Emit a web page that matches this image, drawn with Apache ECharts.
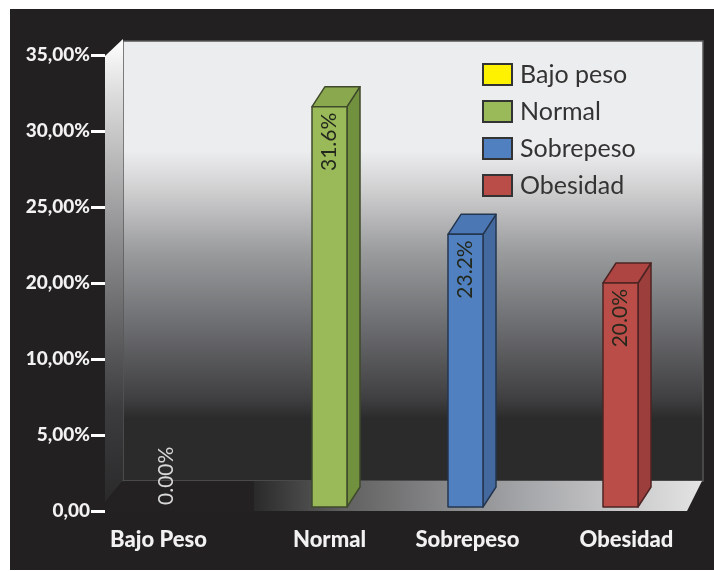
<!DOCTYPE html>
<html>
<head>
<meta charset="utf-8">
<style>
  html, body { margin: 0; padding: 0; background: #fff; }
  #chart { width: 714px; height: 571px; }
</style>
</head>
<body>
<div id="chart"></div>
<script src="https://cdn.jsdelivr.net/npm/echarts@6/dist/echarts.min.js"></script>
<script>
  // datos
  const categories = ['Bajo Peso', 'Normal', 'Sobrepeso', 'Obesidad'];
  const legendNames = ['Bajo peso', 'Normal', 'Sobrepeso', 'Obesidad'];
  const values = [0, 31.6, 23.2, 20.0];
  // the printed axis skips 15%, so its ticks are evenly spaced but not linear
  const tickValues = [0, 5, 10, 20, 25, 30, 35];
  const tickLabels = ['0,00', '5,00%', '10,00%', '20,00%', '25,00%', '30,00%', '35,00%'];

  const frontColors = ['#fff200', '#9aba5a', '#5180c0', '#bb4d49'];
  const sideColors = ['#d8cc00', '#72913f', '#44699f', '#9c3e3b'];
  const topColors = ['#eee000', '#8aa84e', '#4c77b5', '#ae4542'];
  const edgeColors = ['#333333', '#3f4a2b', '#24364f', '#4d2423'];
  // the bars and labels are not evenly spaced in the original
  const barNudge = [2, 12, -5, -3];
  const labelPad = [[0, 12, 0, 0], [0, 0, 0, 24], [0, 6, 0, 0], [0, 0, 0, 6]];

  const BAR_WIDTH = 35;
  const DEPTH_X = 13;
  const DEPTH_Y = -20;
  const BASE_LIFT = 4;

  // value -> position on the printed axis
  const toSlot = (v) => {
    for (let i = 1; i < tickValues.length; i++) {
      if (v <= tickValues[i]) {
        return i - 1 + (v - tickValues[i - 1]) / (tickValues[i] - tickValues[i - 1]);
      }
    }
    return tickValues.length - 1;
  };

  const renderBar = (params, api) => {
    const idx = api.value(0);
    const val = api.value(1);
    const top = api.coord([idx, toSlot(val)]);
    const base = api.coord([idx, 0]);
    const cx = top[0] + barNudge[idx];
    const l = cx - BAR_WIDTH / 2;
    const r = cx + BAR_WIDTH / 2;
    const t = top[1];
    const b = base[1] - BASE_LIFT;
    const edge = { stroke: edgeColors[idx], lineWidth: 1.5, lineJoin: 'round' };
    const children = [];
    if (val > 0) {
      children.push({
        type: 'polygon',
        shape: { points: [[r, t], [r + DEPTH_X, t + DEPTH_Y], [r + DEPTH_X, b + DEPTH_Y], [r, b]] },
        style: Object.assign({ fill: sideColors[idx] }, edge),
      }, {
        type: 'polygon',
        shape: { points: [[l, t], [l + DEPTH_X, t + DEPTH_Y], [r + DEPTH_X, t + DEPTH_Y], [r, t]] },
        style: Object.assign({ fill: topColors[idx] }, edge),
      }, {
        type: 'rect',
        shape: { x: l, y: t, width: BAR_WIDTH, height: b - t },
        style: Object.assign({ fill: frontColors[idx] }, edge),
      });
    }
    children.push({
      type: 'text',
      x: cx,
      y: val > 0 ? t + 6 : b - 2,
      rotation: Math.PI / 2,
      style: {
        text: val.toFixed(val > 0 ? 1 : 2) + '%',
        align: val > 0 ? 'right' : 'left',
        verticalAlign: 'middle',
        fill: val > 0 ? '#23281c' : '#d8d8d8',
        font: '400 21px Lato',
      },
    });
    return { type: 'group', children };
  };

  const myChart = echarts.init(document.getElementById('chart'));

  const option = {
    animation: false,
    backgroundColor: '#ffffff',
    grid: { left: 88, right: 14, top: 55, bottom: 60, containLabel: false },
    legend: {
      orient: 'vertical',
      left: 482,
      top: 62,
      padding: 0,
      itemWidth: 29,
      itemHeight: 21,
      itemGap: 12,
      icon: 'rect',
      selectedMode: false,
      data: legendNames,
      textStyle: { fontFamily: 'Lato', fontSize: 25, lineHeight: 23, color: '#333333', padding: [0, 0, 0, 3] },
    },
    xAxis: {
      type: 'category',
      data: categories,
      axisLine: { show: false },
      axisTick: { show: false },
      axisLabel: {
        margin: 18,
        interval: 0,
        color: '#f2f2f2',
        formatter: (name) => '{c' + categories.indexOf(name) + '|' + name + '}',
        rich: Object.fromEntries(labelPad.map((padding, i) => ['c' + i, {
          padding,
          fontFamily: 'Lato',
          fontWeight: 900,
          fontSize: 22,
          color: '#f2f2f2',
        }])),
      },
    },
    yAxis: {
      type: 'value',
      min: 0,
      max: tickLabels.length - 1,
      interval: 1,
      offset: -17,
      splitLine: { show: false },
      axisLine: { show: false },
      axisTick: { show: true, length: 14, lineStyle: { color: '#ffffff', width: 3 } },
      axisLabel: {
        margin: 15,
        color: '#f2f2f2',
        fontFamily: 'Lato',
        fontWeight: 900,
        fontSize: 19,
        formatter: (v) => tickLabels[v],
      },
    },
    // fondo 3D: panel, pared trasera, pared lateral y suelo
    graphic: [
      { type: 'rect', z: -10, shape: { x: 10, y: 9, width: 704, height: 561 }, style: { fill: '#222021' } },
      {
        type: 'rect', z: -9,
        shape: { x: 123, y: 41, width: 580, height: 440 },
        style: {
          stroke: '#555555',
          lineWidth: 1.5,
          fill: new echarts.graphic.LinearGradient(0, 0, 0, 1, [
            { offset: 0, color: '#ecedee' },
            { offset: 0.25, color: '#ecedee' },
            { offset: 0.34, color: '#cfcfd0' },
            { offset: 0.48, color: '#9a9b9d' },
            { offset: 0.64, color: '#6e6f72' },
            { offset: 0.81, color: '#404042' },
            { offset: 0.857, color: '#2b2b2c' },
            { offset: 1, color: '#2b2b2c' },
          ]),
        },
      },
      {
        type: 'polygon', z: -8,
        shape: { points: [[105, 56], [123, 39], [123, 480], [105, 502]] },
        style: {
          fill: new echarts.graphic.LinearGradient(0, 0, 0, 1, [
            { offset: 0, color: '#ffffff' },
            { offset: 0.12, color: '#dcdcdc' },
            { offset: 0.45, color: '#8a8a8c' },
            { offset: 0.8, color: '#3c3c3e' },
            { offset: 1, color: '#2a2a2b' },
          ]),
        },
      },
      {
        type: 'polygon', z: -8,
        shape: { points: [[254, 481], [702, 481], [687, 511], [254, 511]] },
        style: {
          fill: new echarts.graphic.LinearGradient(0, 0, 1, 0, [
            { offset: 0, color: '#2a2a2a' },
            { offset: 0.2, color: '#606060' },
            { offset: 0.6, color: '#a4a5a8' },
            { offset: 1, color: '#e4e4e4' },
          ]),
        },
      },
      {
        type: 'polygon', z: -8,
        shape: { points: [[123, 481], [254, 481], [254, 511], [105, 511]] },
        style: { fill: '#232122' },
      },
    ],
    series: legendNames.map((name, i) => ({
      name,
      type: 'custom',
      renderItem: renderBar,
      silent: true,
      itemStyle: { color: frontColors[i], borderColor: '#333333', borderWidth: 2 },
      data: [[i, values[i]]],
    })),
  };

  myChart.setOption(option);
</script>
</body>
</html>
